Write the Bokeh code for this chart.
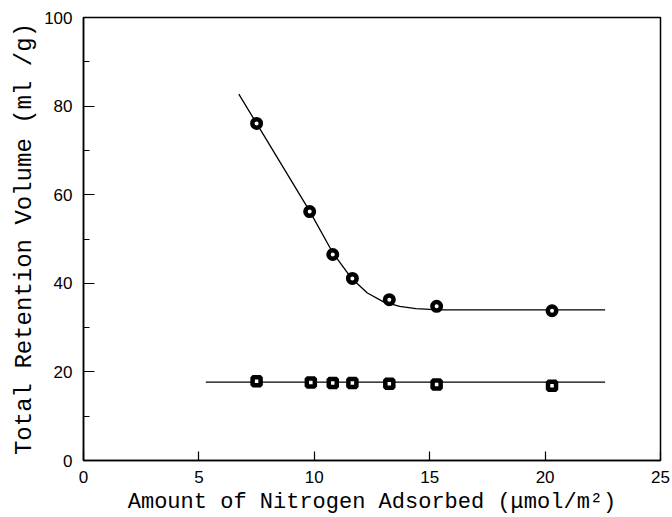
from bokeh.plotting import figure
from bokeh.models import FixedTicker, Range1d, Title
from bokeh.embed import file_html
from bokeh.resources import INLINE

# measured points
circ_x = [7.5, 9.8, 10.8, 11.65, 13.25, 15.3, 20.3]
circ_y = [76.1, 56.2, 46.5, 41.1, 36.3, 34.8, 33.8]
sq_x = [7.5, 9.85, 10.8, 11.65, 13.25, 15.3, 20.3]
sq_y = [17.9, 17.6, 17.5, 17.5, 17.3, 17.15, 16.9]

# fitted curves
fit_c_x = [6.73, 7.5, 9.8, 10.8, 11.6, 12.3, 13.0, 13.7, 14.4, 15.0, 15.5, 17.0, 20.0, 22.6]
fit_c_y = [82.7, 76.1, 56.3, 46.9, 41.2, 37.8, 35.8, 34.8, 34.3, 34.1, 34.0, 34.0, 34.0, 34.0]
fit_s_x = [5.3, 22.6]
fit_s_y = [17.7, 17.7]

x_ticks = [0, 5, 10, 15, 20, 25]
y_ticks = [0, 20, 40, 60, 80, 100]
y_minor = [10, 30, 50, 70, 90]

x_title = "Amount of Nitrogen Adsorbed (μmol/m²)"
y_title = "Total Retention Volume (ml /g)"

p = figure(width=672, height=517, output_backend="svg", toolbar_location=None,
           x_range=Range1d(0, 25), y_range=Range1d(0, 100),
           min_border_left=83, min_border_right=12, min_border_top=17, min_border_bottom=55)
p.xgrid.visible = False
p.ygrid.visible = False
p.outline_line_color = "black"
p.outline_line_width = 1.5

p.line(fit_c_x, fit_c_y, line_color="black", line_width=1.3)
p.line(fit_s_x, fit_s_y, line_color="black", line_width=1.3)
p.scatter(circ_x, circ_y, marker="circle", size=8.5, fill_color="white",
          line_color="black", line_width=4.5)
p.scatter(sq_x, sq_y, marker="square", size=8, fill_color="white",
          line_color="black", line_width=4.5)

for ax in (p.xaxis[0], p.yaxis[0]):
    ax.axis_line_color = "black"
    ax.axis_line_width = 1.5
    ax.major_tick_line_color = "black"
    ax.major_tick_line_width = 1.2
    ax.minor_tick_line_color = "black"
    ax.minor_tick_line_width = 1.2
    ax.major_tick_out = 0
    ax.minor_tick_out = 0
    ax.major_label_text_font = "Liberation Sans"
    ax.major_label_text_font_size = "17px"
    ax.major_label_text_color = "black"

p.xaxis.ticker = FixedTicker(ticks=x_ticks, minor_ticks=[])
p.yaxis.ticker = FixedTicker(ticks=y_ticks, minor_ticks=y_minor)
p.xaxis.major_tick_in = 9
p.yaxis.major_tick_in = 11
p.yaxis.minor_tick_in = 6
p.xaxis.major_label_standoff = 10
p.yaxis.major_label_standoff = 11

p.add_layout(Title(text=x_title, text_font="Liberation Mono", text_font_size="22px",
                   text_font_style="normal", text_color="black", align="center",
                   standoff=5, offset=0), "below")
p.add_layout(Title(text=y_title, text_font="Liberation Mono", text_font_size="24px",
                   text_font_style="normal", text_color="black", align="center",
                   standoff=7, offset=0), "left")

open("out.html", "w").write(file_html(p, INLINE))
